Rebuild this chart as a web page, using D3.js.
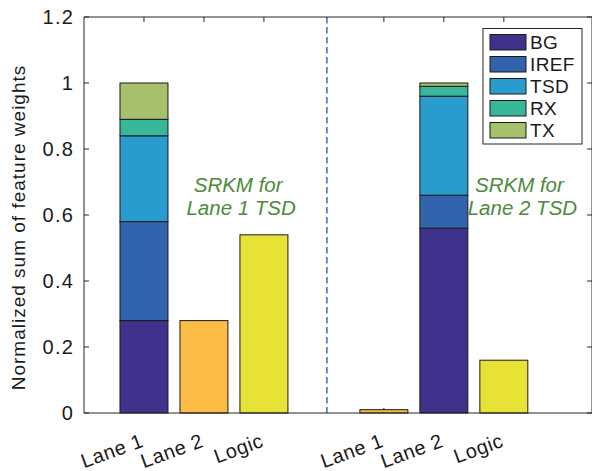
<!DOCTYPE html>
<html>
<head>
<meta charset="utf-8">
<script src="https://cdn.jsdelivr.net/npm/d3@7"></script>
<style>
  body { margin: 0; background: #fff; }
  svg { display: block; font-family: "Liberation Sans", Arial, Helvetica, sans-serif; }
</style>
</head>
<body>
<svg id="chart" width="592" height="471"></svg>
<script>
// ---- data ----
const tickPositions = [1, 2, 3, 5, 6, 7];
const tickLabels = ["Lane 1", "Lane 2", "Logic", "Lane 1", "Lane 2", "Logic"];
const yTicks = [0, 0.2, 0.4, 0.6, 0.8, 1, 1.2];
const yTickLabels = ["0", "0.2", "0.4", "0.6", "0.8", "1", "1.2"];

const stackSeries = ["BG", "IREF", "TSD", "RX", "TX"];
const stackColors = ["#3f318c", "#3164ad", "#299bcd", "#38b79b", "#a7c06c"];
const stackPositions = [1, 6];
const BG   = [0.28, 0.56];
const IREF = [0.30, 0.10];
const TSD  = [0.26, 0.30];
const RX   = [0.05, 0.03];
const TX   = [0.11, 0.01];

const singlePositions = [2, 3, 4, 5, 7];
const singleValues    = [0.28, 0.54, 0, 0.01, 0.16];
const singleColors    = ["#fbbb44", "#e8e236", "#fbbb44", "#fbbb44", "#e8e236"];

const separatorPos = 4.05;
const annotations = [
  { x: 2.62, lines: ["SRKM for", "Lane 1 TSD"] },
  { x: 7.31, lines: ["SRKM for", "Lane 2 TSD"] }
];
const xLim = [0, 8.47];
const yLim = [0, 1.2];
const barWidth = 0.8;

// ---- layout ----
const svg = d3.select("#chart");
const L = 84, R = 592, T = 17, B = 413;
const x = d3.scaleLinear().domain(xLim).range([L, R]);
const y = d3.scaleLinear().domain(yLim).range([B, T]);
const fs = 20;

// ticks (drawn under bars)
const g = svg.append("g");
const tickLen = 5;
g.selectAll(".ytl").data(yTicks).join("line")
  .attr("x1", L).attr("x2", L + tickLen)
  .attr("y1", d => y(d)).attr("y2", d => y(d))
  .attr("stroke", "#262626").attr("stroke-width", 1);
g.selectAll(".ytr").data(yTicks).join("line")
  .attr("x1", R - tickLen).attr("x2", R)
  .attr("y1", d => y(d)).attr("y2", d => y(d))
  .attr("stroke", "#262626").attr("stroke-width", 1);
g.selectAll(".xtt").data(tickPositions).join("line")
  .attr("x1", d => x(d)).attr("x2", d => x(d))
  .attr("y1", T).attr("y2", T + tickLen)
  .attr("stroke", "#262626").attr("stroke-width", 1);
g.selectAll(".xtb").data(tickPositions).join("line")
  .attr("x1", d => x(d)).attr("x2", d => x(d))
  .attr("y1", B).attr("y2", B - tickLen)
  .attr("stroke", "#262626").attr("stroke-width", 1);

// stacked bars
const stackRows = stackPositions.map((p, i) => ({
  pos: p, BG: BG[i], IREF: IREF[i], TSD: TSD[i], RX: RX[i], TX: TX[i]
}));
const stacked = d3.stack().keys(stackSeries)(stackRows);
const bars = svg.append("g");
stacked.forEach((layer, li) => {
  bars.selectAll(null).data(layer).join("rect")
    .attr("x", d => x(d.data.pos - barWidth / 2))
    .attr("width", x(barWidth) - x(0))
    .attr("y", d => y(d[1]))
    .attr("height", d => y(d[0]) - y(d[1]))
    .attr("fill", stackColors[li])
    .attr("stroke", "#1a1a1a").attr("stroke-width", 1);
});
// single bars
bars.selectAll(null).data(singlePositions.map((p, i) => ({ p, v: singleValues[i], c: singleColors[i] })))
  .join("rect")
  .attr("x", d => x(d.p - barWidth / 2))
  .attr("width", x(barWidth) - x(0))
  .attr("y", d => y(d.v))
  .attr("height", d => y(0) - y(d.v))
  .attr("fill", d => d.c)
  .attr("stroke", "#1a1a1a").attr("stroke-width", d => d.v === 0 ? 1.6 : 1);

// separator
svg.append("line")
  .attr("x1", x(separatorPos)).attr("x2", x(separatorPos))
  .attr("y1", T).attr("y2", B)
  .attr("stroke", "#4a74c8").attr("stroke-width", 1.6)
  .attr("stroke-dasharray", "6.5,3.5");

// axes frame
svg.append("path")
  .attr("d", `M${L},${B}H${R}M${L},${B}V${T}H${R}V${B}`)
  .attr("fill", "none").attr("stroke", "#262626").attr("stroke-width", 1);

// y tick labels
svg.selectAll(".ylab").data(yTicks).join("text")
  .attr("x", L - 10).attr("y", d => y(d))
  .attr("dy", "0.36em")
  .attr("text-anchor", "end")
  .attr("font-size", fs).attr("fill", "#1a1a1a")
  .attr("letter-spacing", "1.2")
  .text((d, i) => yTickLabels[i]);

// x tick labels (rotated)
svg.selectAll(".xlab").data(tickPositions).join("text")
  .attr("transform", d => `translate(${x(d) - 4},${B + 20}) rotate(-20)`)
  .attr("text-anchor", "end")
  .attr("dy", "0.7em")
  .attr("font-size", fs).attr("fill", "#1a1a1a")
  .attr("letter-spacing", "0.6")
  .text((d, i) => tickLabels[i]);

// y axis title
svg.append("text")
  .attr("transform", `translate(25,${(65 + 390) / 2}) rotate(-90)`)
  .attr("text-anchor", "middle")
  .attr("font-size", 19).attr("fill", "#1a1a1a")
  .attr("letter-spacing", "1.0")
  .text("Normalized sum of feature weights");

// annotations
annotations.forEach(a => {
  const t = svg.append("text")
    .attr("font-size", 20.5).attr("font-style", "italic")
    .attr("fill", "#4d8a3b").attr("text-anchor", "middle");
  a.lines.forEach((ln, i) => {
    t.append("tspan").attr("x", x(a.x) + (i === 0 ? -3 : 0)).attr("y", 191.5 + i * 23.5).text(ln);
  });
});

// legend
const lg = svg.append("g");
lg.append("rect").attr("x", 483).attr("y", 28.5).attr("width", 99).attr("height", 115.5)
  .attr("fill", "#fff").attr("stroke", "#262626").attr("stroke-width", 1);
stackSeries.forEach((s, i) => {
  const yy = 34.5 + i * 22;
  lg.append("rect").attr("x", 490).attr("y", yy).attr("width", 36).attr("height", 15.5)
    .attr("fill", stackColors[i]).attr("stroke", "#1a1a1a").attr("stroke-width", 1);
  lg.append("text").attr("x", 530).attr("y", yy + 7.75).attr("dy", "0.36em")
    .attr("font-size", 19).attr("fill", "#1a1a1a").attr("letter-spacing", "0.4").text(s);
});
</script>
</body>
</html>
